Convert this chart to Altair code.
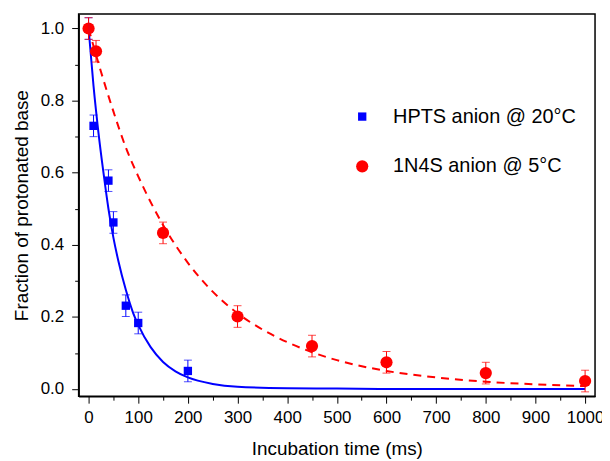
import altair as alt
import pandas as pd

HPTS = "HPTS anion @ 20°C"
N1N4S = "1N4S anion @ 5°C"

# measured points
hpts_time = [0, 10, 40, 50, 75, 100, 200]
hpts_frac = [1.0, 0.73, 0.578, 0.462, 0.231, 0.183, 0.05]
hpts_err = [0.03, 0.03, 0.03, 0.03, 0.03, 0.03, 0.03]

n1n4s_time = [0, 15, 150, 300, 450, 600, 800, 1000]
n1n4s_frac = [1.0, 0.937, 0.433, 0.201, 0.119, 0.074, 0.044, 0.022]
n1n4s_err = [0.03, 0.03, 0.03, 0.03, 0.03, 0.03, 0.03, 0.03]

# fitted curves
hpts_fit_time = [0, 10, 20, 30, 40, 50, 60, 75, 90, 100, 125, 150, 175, 200, 250, 300, 400, 500, 600, 700, 800, 900, 1000]
hpts_fit_frac = [1.0, 0.84, 0.71, 0.60, 0.50, 0.42, 0.355, 0.275, 0.21, 0.178, 0.116, 0.075, 0.049, 0.032, 0.014, 0.006, 0.002, 0.001, 0.0, 0.0, 0.0, 0.0, 0.0]

n1n4s_fit_time = [0, 25, 50, 75, 100, 150, 200, 250, 300, 350, 400, 450, 500, 600, 700, 800, 900, 1000]
n1n4s_fit_frac = [1.0, 0.88, 0.77, 0.67, 0.59, 0.455, 0.35, 0.27, 0.21, 0.165, 0.13, 0.102, 0.08, 0.05, 0.032, 0.02, 0.013, 0.008]

rows = []
for s, ts, ys, es in [(HPTS, hpts_time, hpts_frac, hpts_err), (N1N4S, n1n4s_time, n1n4s_frac, n1n4s_err)]:
    for t, y, e in zip(ts, ys, es):
        rows.append({"series": s, "t": t, "y": y, "lo": y - e, "hi": y + e})
pts = pd.DataFrame(rows)

fit_h = pd.DataFrame({"t": hpts_fit_time, "y": hpts_fit_frac})
fit_n = pd.DataFrame({"t": n1n4s_fit_time, "y": n1n4s_fit_frac})

BLUE = "#0000ff"
RED = "#ff0000"
FONT = "Liberation Sans"

x_axis = alt.Axis(
    values=list(range(0, 1001, 50)),
    format="d",
    labelExpr="datum.value % 100 === 0 ? datum.label : ''",
    tickSize={"condition": {"test": "datum.value % 100 === 0", "value": 7}, "value": 4},
    title="Incubation time (ms)",
    grid=False,
    labelFontSize=17, titleFontSize=19, labelPadding=6, titlePadding=15,
    labelFont=FONT, titleFont=FONT, titleFontWeight="normal",
    domainColor="black", domainWidth=1.5, tickColor="black", labelColor="black", titleColor="black",
    labelFlush=False, labelOverlap=False,
)
y_axis = alt.Axis(
    values=[0.0, 0.1, 0.2, 0.3, 0.4, 0.5, 0.6, 0.7, 0.8, 0.9, 1.0],
    labelExpr="round(datum.value * 10) % 2 === 0 ? format(datum.value, '.1f') : ''",
    tickSize={"condition": {"test": "round(datum.value * 10) % 2 === 0", "value": 7}, "value": 4},
    title="Fraction of protonated base",
    grid=False,
    labelFontSize=17, titleFontSize=19, labelPadding=8, titlePadding=9,
    labelFont=FONT, titleFont=FONT, titleFontWeight="normal",
    domainColor="black", domainWidth=1.5, tickColor="black", labelColor="black", titleColor="black",
    labelFlush=False, labelOverlap=False,
)
xs = alt.Scale(domain=[-20, 1020], nice=False, zero=False)
ys = alt.Scale(domain=[-0.02, 1.04], nice=False, zero=False)

def X():
    return alt.X("t:Q", scale=xs, axis=x_axis)

def Y(field="y"):
    return alt.Y(f"{field}:Q", scale=ys, axis=y_axis)

line_h = alt.Chart(fit_h).mark_line(color=BLUE, strokeWidth=2, interpolate="monotone").encode(x=X(), y=Y())
line_n = alt.Chart(fit_n).mark_line(color=RED, strokeWidth=2, strokeDash=[8, 6], interpolate="monotone").encode(x=X(), y=Y())

layers = [line_h, line_n]
for s, c in [(HPTS, BLUE), (N1N4S, RED)]:
    b = alt.Chart(pts).transform_filter(alt.datum.series == s)
    layers.append(b.mark_rule(color=c, strokeWidth=1).encode(x=X(), y=Y("lo"), y2="hi:Q"))
    layers.append(b.mark_tick(color=c, orient="horizontal", size=8, thickness=1).encode(x=X(), y=Y("lo")))
    layers.append(b.mark_tick(color=c, orient="horizontal", size=8, thickness=1).encode(x=X(), y=Y("hi")))

points = alt.Chart(pts).mark_point(filled=True, opacity=1).encode(
    x=X(), y=Y(),
    color=alt.Color("series:N", scale=alt.Scale(domain=[HPTS, N1N4S], range=[BLUE, RED]),
                    legend=alt.Legend(title=None, orient="none", legendX=275, legendY=93)),
    shape=alt.Shape("series:N", scale=alt.Scale(domain=[HPTS, N1N4S], range=["square", "circle"])),
    size=alt.Size("series:N", scale=alt.Scale(type="ordinal", domain=[HPTS, N1N4S], range=[70, 150])),
)
layers.insert(2, points)

chart = alt.layer(*layers).properties(
    width=519, height=384,
    background="white",
    autosize=alt.AutoSizeParams(type="none"),
    padding={"left": 71, "top": 5, "right": 7, "bottom": 62},
).configure_view(stroke="black", strokeWidth=1.5).configure_legend(
    labelFontSize=20, labelFont=FONT, labelColor="black", rowPadding=30, labelOffset=21,
    padding=0, symbolStrokeWidth=0, labelLimit=400,
)

chart.save("out.html", embed_options={"renderer": "svg", "actions": False})
